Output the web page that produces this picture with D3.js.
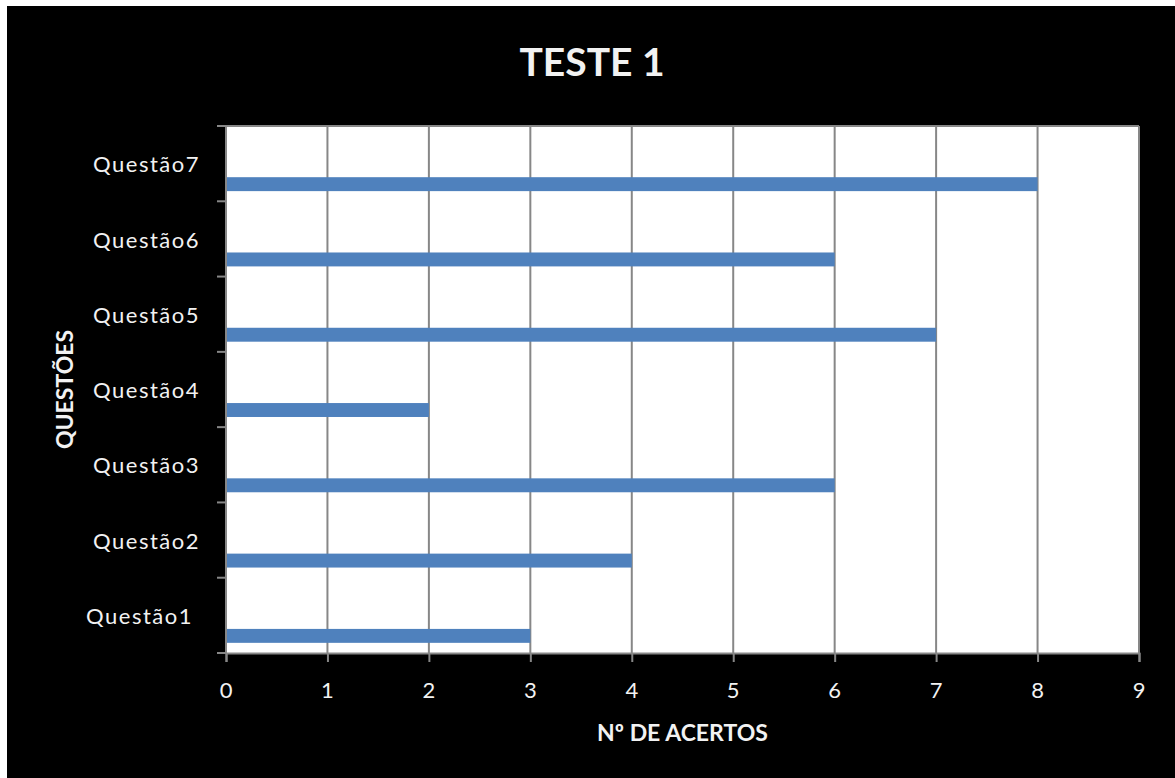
<!DOCTYPE html>
<html>
<head>
<meta charset="utf-8">
<script src="https://cdn.jsdelivr.net/npm/d3@7"></script>
<style>
  html, body { margin: 0; padding: 0; background: #fff; }
  svg { display: block; }
  text { font-family: Lato, "Open Sans", sans-serif; fill: #f2f2f2; }
</style>
</head>
<body>
<svg id="chart" width="1175" height="778"></svg>
<script>
// Number of correct answers per question
const questions = ["Questão1", "Questão2", "Questão3", "Questão4", "Questão5", "Questão6", "Questão7"];
const hits = [3, 4, 6, 2, 7, 6, 8];
const xTicks = [0, 1, 2, 3, 4, 5, 6, 7, 8, 9];
const title = "TESTE 1";
const xTitle = "Nº DE ACERTOS";
const yTitle = "QUESTÕES";

const W = 1175, H = 778;
const plot = { left: 226, right: 1139, top: 126, bottom: 653 };
const gridColor = "#878787";
const barColor = "#4f81bd";

const svg = d3.select("#chart");

// page frame: thin white margin, black chart area
svg.append("rect").attr("width", W).attr("height", H).attr("fill", "#ffffff");
svg.append("rect").attr("x", 7).attr("y", 6).attr("width", W - 7).attr("height", H - 6).attr("fill", "#000000");

const x = d3.scaleLinear().domain([0, 9]).range([plot.left, plot.right]);
const y = d3.scaleBand().domain(questions.slice().reverse()).range([plot.top, plot.bottom]).padding(0);

// plot area
svg.append("rect")
  .attr("x", plot.left).attr("y", plot.top)
  .attr("width", plot.right - plot.left).attr("height", plot.bottom - plot.top)
  .attr("fill", "#ffffff");

// vertical gridlines
svg.append("g").selectAll("line").data(xTicks.slice(1)).join("line")
  .attr("x1", d => x(d)).attr("x2", d => x(d))
  .attr("y1", plot.top).attr("y2", plot.bottom)
  .attr("stroke", gridColor).attr("stroke-width", 2);

// top border of plot area
svg.append("line")
  .attr("x1", plot.left).attr("x2", plot.right)
  .attr("y1", plot.top).attr("y2", plot.top)
  .attr("stroke", gridColor).attr("stroke-width", 2);

// bars, sitting in the lower part of each category band
const bw = y.bandwidth();
svg.append("g").selectAll("rect").data(questions).join("rect")
  .attr("x", x(0))
  .attr("y", (d) => y(d) + bw * 0.68)
  .attr("width", (d, i) => x(hits[i]) - x(0))
  .attr("height", bw * 0.185)
  .attr("fill", barColor);

// bottom axis
const xAxis = svg.append("g")
  .attr("transform", `translate(0,${plot.bottom})`)
  .call(d3.axisBottom(x).tickValues(xTicks).tickSize(9).tickPadding(20).tickFormat(d3.format("d")));
xAxis.select(".domain").attr("stroke", gridColor).attr("stroke-width", 2);
xAxis.selectAll(".tick line").attr("stroke", gridColor).attr("stroke-width", 2);
xAxis.selectAll(".tick text")
  .attr("fill", "#f2f2f2").attr("font-size", 22).attr("font-family", "Lato, sans-serif")
  .attr("letter-spacing", 1);

// left axis: tick marks at band boundaries, labels centred on bands
const boundaries = d3.range(questions.length + 1).map(i => plot.top + i * bw);
const yAxisG = svg.append("g");
yAxisG.append("line")
  .attr("x1", plot.left).attr("x2", plot.left)
  .attr("y1", plot.top - 1).attr("y2", plot.bottom + 1)
  .attr("stroke", gridColor).attr("stroke-width", 2);
yAxisG.selectAll("line.tk").data(boundaries).join("line").attr("class", "tk")
  .attr("x1", plot.left - 9).attr("x2", plot.left)
  .attr("y1", d => d).attr("y2", d => d)
  .attr("stroke", gridColor).attr("stroke-width", 2);
yAxisG.selectAll("text").data(questions).join("text")
  .attr("x", d => d === "Questão1" ? 193 : 200)
  .attr("y", d => y(d) + bw / 2 + 3)
  .attr("text-anchor", "end")
  .attr("dominant-baseline", "middle")
  .attr("font-size", 22)
  .attr("letter-spacing", 1.5)
  .text(d => d);

// titles
svg.append("text")
  .attr("x", 592).attr("y", 76)
  .attr("text-anchor", "middle")
  .attr("font-size", 39).attr("font-weight", 700)
  .text(title);

svg.append("text")
  .attr("x", (plot.left + plot.right) / 2).attr("y", 741)
  .attr("text-anchor", "middle")
  .attr("font-size", 23).attr("font-weight", 700)
  .text(xTitle);

svg.append("text")
  .attr("transform", `translate(73,${(plot.top + plot.bottom) / 2}) rotate(-90)`)
  .attr("text-anchor", "middle")
  .attr("font-size", 23).attr("font-weight", 700)
  .text(yTitle);
</script>
</body>
</html>
